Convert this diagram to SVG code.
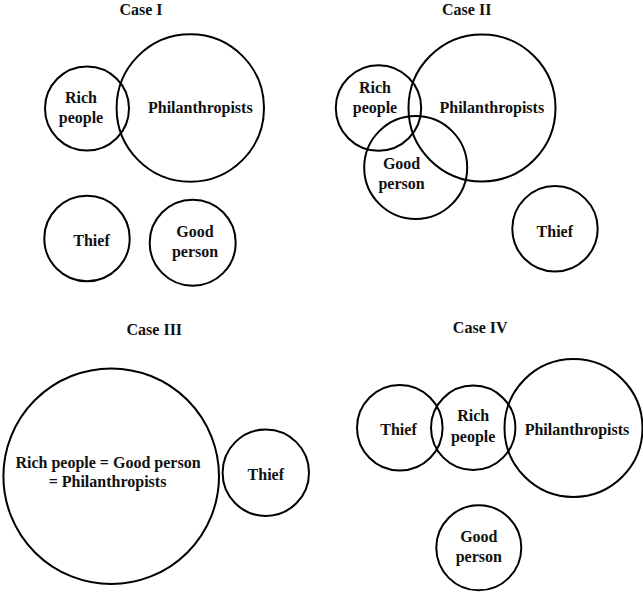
<svg xmlns="http://www.w3.org/2000/svg" width="643" height="597" viewBox="0 0 643 597">
<style>
.c{fill:none;stroke:#000;stroke-width:2}
text{font-family:"Liberation Serif","Times New Roman",serif;font-weight:bold;font-size:16px;text-anchor:middle;fill:#111}
</style>
<rect width="643" height="597" fill="#fff"/>
<g id="case1">
<text x="141" y="15">Case I</text>
<g id="c1-rich"><circle class="c" cx="87" cy="108.5" r="42"/><text x="81" y="103">Rich</text><text x="81" y="123">people</text></g>
<g id="c1-phil"><circle class="c" cx="190.3" cy="108" r="73.7"/><text x="200.3" y="113">Philanthropists</text></g>
<g id="c1-thief"><circle class="c" cx="87" cy="238.5" r="42.7"/><text x="91.5" y="246">Thief</text></g>
<g id="c1-good"><circle class="c" cx="192.7" cy="242.7" r="43"/><text x="195" y="236.7">Good</text><text x="195" y="256.7">person</text></g>
</g>
<g id="case2">
<text x="466.7" y="15">Case II</text>
<g id="c2-rich"><circle class="c" cx="378.5" cy="108" r="42.7"/><text x="375" y="93.3">Rich</text><text x="375" y="113.3">people</text></g>
<g id="c2-phil"><circle class="c" cx="482" cy="108" r="73.5"/><text x="491.8" y="112.7">Philanthropists</text></g>
<g id="c2-good"><circle class="c" cx="415.7" cy="167.5" r="51.5"/><text x="401.6" y="169.3">Good</text><text x="401.6" y="189.3">person</text></g>
<g id="c2-thief"><circle class="c" cx="555" cy="228.8" r="42.7"/><text x="554.8" y="236.7">Thief</text></g>
</g>
<g id="case3">
<text x="154.3" y="335">Case III</text>
<g id="c3-all"><circle class="c" cx="111.2" cy="476.2" r="107.8"/><text x="108" y="468.3">Rich people = Good person</text><text x="107.5" y="486.7">= Philanthropists</text></g>
<g id="c3-thief"><circle class="c" cx="265.8" cy="472.7" r="43.2"/><text x="265.8" y="480">Thief</text></g>
</g>
<g id="case4">
<text x="480.2" y="333.3">Case IV</text>
<g id="c4-thief"><circle class="c" cx="399.8" cy="427.8" r="42.8"/><text x="398.5" y="435">Thief</text></g>
<g id="c4-rich"><circle class="c" cx="473.2" cy="427.8" r="42.2"/><text x="473.2" y="420.7">Rich</text><text x="473.2" y="441.7">people</text></g>
<g id="c4-phil"><circle class="c" cx="573.5" cy="428" r="69"/><text x="577" y="435">Philanthropists</text></g>
<g id="c4-good"><circle class="c" cx="478.8" cy="547.8" r="42.5"/><text x="478.8" y="542.3">Good</text><text x="478.8" y="562.3">person</text></g>
</g>
<g id="connectors"></g>
</svg>
